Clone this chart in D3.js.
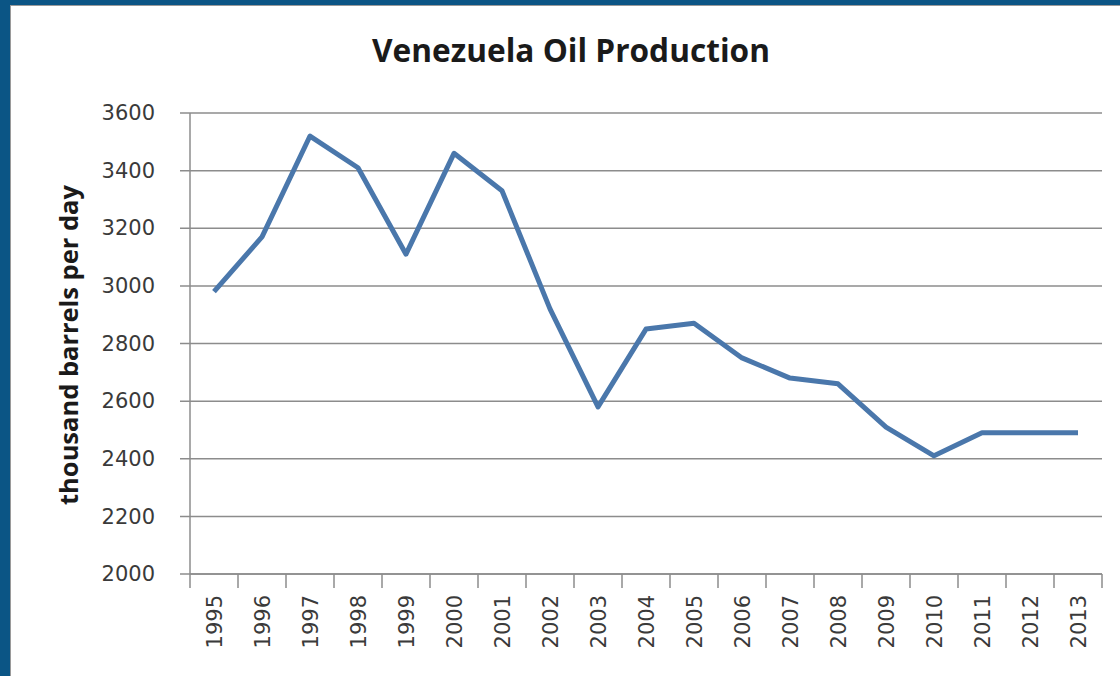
<!DOCTYPE html>
<html>
<head>
<meta charset="utf-8">
<script src="https://cdnjs.cloudflare.com/ajax/libs/d3/7.8.5/d3.min.js"></script>
<style>
  html, body { margin: 0; padding: 0; background: #0b5585; }
  #chart { width: 1120px; height: 676px; }
</style>
</head>
<body>
<div id="chart"></div>
<script>
// data
var years = ["1995","1996","1997","1998","1999","2000","2001","2002","2003","2004",
             "2005","2006","2007","2008","2009","2010","2011","2012","2013"];
var production = [2980, 3170, 3520, 3410, 3110, 3460, 3330, 2920, 2580, 2850,
                  2870, 2750, 2680, 2660, 2510, 2410, 2490, 2490, 2490];
var yTicks = [2000, 2200, 2400, 2600, 2800, 3000, 3200, 3400, 3600];

var W = 1120, H = 676;
var margin = {top: 113, right: 18, bottom: 102, left: 190};
var width = W - margin.left - margin.right,
    height = H - margin.top - margin.bottom;

var svg = d3.select("#chart").append("svg")
    .attr("width", W)
    .attr("height", H);

// shrink/grow a text's font so it spans a given length
function fit(sel, target) {
    var fs = +sel.attr("font-size");
    var len = sel.node().getComputedTextLength();
    sel.attr("font-size", (fs * target / len).toFixed(2));
}

// frame: blue border with white panel
svg.append("rect").attr("x", 0).attr("y", 0).attr("width", W).attr("height", H)
    .attr("fill", "#0b5585");
svg.append("rect").attr("x", 10).attr("y", 5).attr("width", W - 10).attr("height", H - 5)
    .attr("fill", "#9a9a9a");
svg.append("rect").attr("x", 11).attr("y", 6).attr("width", W - 11).attr("height", H - 6)
    .attr("fill", "#ffffff");

var g = svg.append("g")
    .attr("transform", "translate(" + margin.left + "," + margin.top + ")");

var xScale = d3.scaleBand()
    .domain(years)
    .range([0, width]);

var yScale = d3.scaleLinear()
    .domain([2000, 3600])
    .range([height, 0]);

// gridlines
g.append("g")
    .selectAll("line")
    .data(yTicks)
    .join("line")
    .attr("x1", -10)
    .attr("x2", width)
    .attr("y1", function(d) { return yScale(d); })
    .attr("y2", function(d) { return yScale(d); })
    .attr("stroke", "#8c8c8c")
    .attr("stroke-width", 1.5);

// y axis
var y_axis = d3.axisLeft(yScale).tickValues(yTicks).tickFormat(d3.format("d"))
    .tickSize(0).tickPadding(35);
var yg = g.append("g").call(y_axis);
yg.select(".domain").remove();
yg.selectAll("text")
    .attr("font-family", "'DejaVu Sans', sans-serif")
    .attr("font-size", 21)
    .attr("fill", "#3a3a3a");

g.append("line")
    .attr("x1", 0).attr("x2", 0)
    .attr("y1", 0).attr("y2", height)
    .attr("stroke", "#8c8c8c").attr("stroke-width", 1.5);

// x axis with ticks between categories
var xg = g.append("g").attr("transform", "translate(0," + height + ")");
xg.append("line")
    .attr("x1", 0).attr("x2", width)
    .attr("stroke", "#8c8c8c").attr("stroke-width", 1.5);
xg.selectAll(".tk")
    .data(years.concat(["end"]))
    .join("line")
    .attr("class", "tk")
    .attr("x1", function(d, i) { return i * xScale.step(); })
    .attr("x2", function(d, i) { return i * xScale.step(); })
    .attr("y1", 0).attr("y2", 14)
    .attr("stroke", "#8c8c8c").attr("stroke-width", 1.5);
xg.selectAll(".lbl")
    .data(years)
    .join("text")
    .attr("class", "lbl")
    .attr("transform", function(d) {
        return "translate(" + (xScale(d) + xScale.bandwidth() / 2 + 8) + ",21) rotate(-90)";
    })
    .attr("text-anchor", "end")
    .attr("font-family", "'DejaVu Sans', sans-serif")
    .attr("font-size", 21)
    .attr("fill", "#3a3a3a")
    .text(function(d) { return d; });

// the line
var line = d3.line()
    .x(function(d, i) { return xScale(years[i]) + xScale.bandwidth() / 2; })
    .y(function(d) { return yScale(d); })
    .curve(d3.curveLinear);

g.append("path")
    .datum(production)
    .attr("d", line)
    .attr("fill", "none")
    .attr("stroke", "#4a77ab")
    .attr("stroke-width", 5)
    .attr("stroke-linejoin", "round");

// titles
var title = svg.append("text")
    .attr("x", 571).attr("y", 62)
    .attr("text-anchor", "middle")
    .attr("font-family", "'Open Sans', sans-serif")
    .attr("font-weight", "bold")
    .attr("font-size", 26)
    .attr("fill", "#1a1a1a")
    .text("Venezuela Oil Production");
fit(title, 398);

var ytitle = svg.append("text")
    .attr("transform", "translate(78,345) rotate(-90)")
    .attr("text-anchor", "middle")
    .attr("font-family", "'Open Sans', sans-serif")
    .attr("font-weight", "bold")
    .attr("font-size", 20)
    .attr("fill", "#1a1a1a")
    .text("thousand barrels per day");
fit(ytitle, 320);
</script>
</body>
</html>
